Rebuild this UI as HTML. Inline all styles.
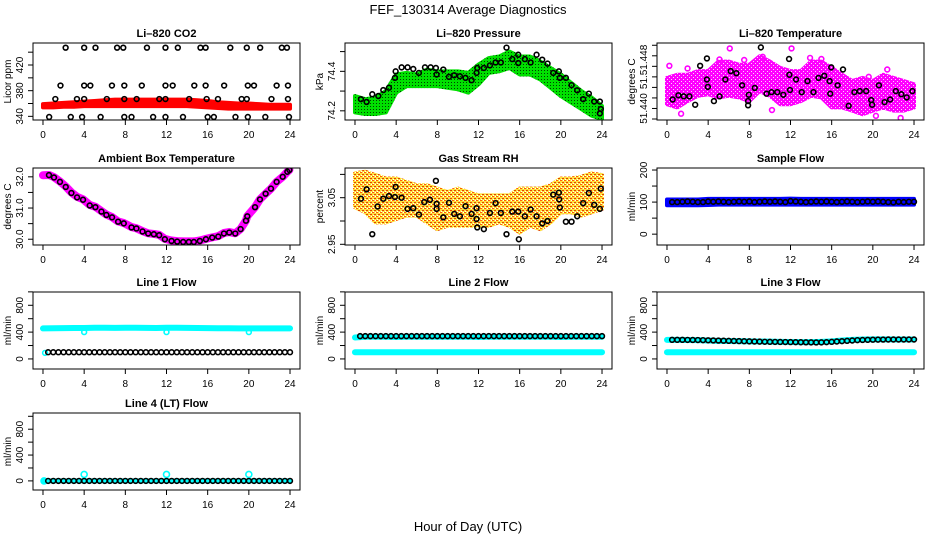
<!DOCTYPE html>
<html><head><meta charset="utf-8"><style>
html,body{margin:0;padding:0;background:#fff;}
svg{display:block;font-family:"Liberation Sans",sans-serif;}
</style></head><body>
<svg id="chart" width="936" height="540" viewBox="0 0 936 540" xmlns="http://www.w3.org/2000/svg">
<defs>
<pattern id="pGreen" width="3" height="3" patternUnits="userSpaceOnUse"><rect width="3" height="3" fill="#00e000"/><rect x="1" y="1" width="1" height="1" fill="#004000"/></pattern>
<pattern id="pOrange" width="4" height="4" patternUnits="userSpaceOnUse"><rect width="4" height="4" fill="#ffe040"/><rect x="0" y="0" width="2" height="1" fill="#ff6000"/><rect x="2" y="2" width="2" height="1" fill="#e04000"/><rect x="3" y="0" width="1" height="1" fill="#ffffff"/><rect x="1" y="3" width="1" height="1" fill="#ffffff"/></pattern>
<pattern id="pMag" width="4" height="4" patternUnits="userSpaceOnUse"><rect width="4" height="4" fill="#ff00ff"/><rect x="1" y="1" width="1" height="1" fill="#ffd0ff"/><rect x="3" y="3" width="1" height="1" fill="#ffd0ff"/></pattern>
</defs>
<text x="468" y="14" font-size="13" text-anchor="middle">FEF_130314  Average Diagnostics</text>
<text x="468" y="531" font-size="13" text-anchor="middle">Hour of Day (UTC)</text>
</svg>
<script>
// ---- shared x data ----
const xTicks = [0,4,8,12,16,20,24];
const hourly = [0,1,2,3,4,5,6,7,8,9,10,11,12,13,14,15,16,17,18,19,20,21,22,23,24];
const halfHours = [0.5,1,1.5,2,2.5,3,3.5,4,4.5,5,5.5,6,6.5,7,7.5,8,8.5,9,9.5,10,10.5,11,11.5,12,12.5,13,13.5,14,14.5,15,15.5,16,16.5,17,17.5,18,18.5,19,19.5,20,20.5,21,21.5,22,22.5,23,23.5,24];

// ---- CO2 ----
const co2Upper = [359,360,361,362,363,364,365,366,366,366,366,366,366,366,366,365,364,362,361,360,360,359,358,358,358];
const co2Lower = [354,354,355,355,356,356,356,356,356,356,356,356,356,356,356,355,354,353,352,352,352,352,352,352,352];
const co2Hours = [2.2,4.0,5.1,7.2,7.8,10.1,11.9,13.1,15.3,15.8,18.2,19.8,21.1,23.2,23.7, 1.7,4.0,4.6,6.7,7.9,9.6,11.9,12.6,14.7,15.8,17.6,19.9,20.5,22.7,23.8, 1.2,3.3,4.0,6.2,7.9,9.1,11.3,11.9,14.2,15.9,17.0,19.3,19.8,22.2,23.8, 0.6,2.7,3.8,5.6,7.9,8.6,10.7,11.9,13.6,16.0,16.6,18.7,19.9,21.6,23.9];
const co2Vals = [447,447,447,447,447,447,447,447,447,447,447,447,447,447,447, 388,388,388,388,388,388,388,388,388,388,388,388,388,388,388, 367,367,367,367,367,367,367,367,367,367,367,367,367,367,367, 339,339,339,339,339,339,339,339,339,339,339,339,339,339,339];

// ---- Pressure ----
const presUpper = [74.275,74.259,74.267,74.300,74.384,74.392,74.384,74.409,74.400,74.400,74.400,74.392,74.434,74.467,74.475,74.500,74.475,74.475,74.450,74.417,74.384,74.342,74.300,74.267,74.225];
const presLower = [74.192,74.184,74.184,74.192,74.292,74.325,74.325,74.325,74.325,74.317,74.309,74.292,74.334,74.392,74.400,74.417,74.384,74.384,74.359,74.317,74.275,74.242,74.209,74.175,74.159];
const presHours = [0.58,1.13,1.68,2.27,2.75,3.30,3.95,3.88,4.53,5.11,5.66,6.21,6.80,7.35,7.86,7.93,8.58,9.13,9.64,10.19,10.74,11.33,11.81,11.88,12.52,13.11,13.66,14.17,14.72,15.28,15.86,15.86,16.50,17.06,17.64,18.19,18.71,19.26,19.81,19.90,20.49,21.04,21.59,22.17,22.72,23.24,23.79,23.88,23.79];
const presVals = [74.259,74.245,74.284,74.275,74.305,74.317,74.400,74.367,74.420,74.420,74.412,74.392,74.420,74.420,74.417,74.384,74.409,74.372,74.380,74.375,74.367,74.355,74.392,74.417,74.417,74.430,74.445,74.445,74.520,74.462,74.484,74.442,74.462,74.445,74.484,74.459,74.439,74.392,74.400,74.367,74.367,74.330,74.304,74.259,74.287,74.247,74.247,74.209,74.187];

// ---- Li-820 Temperature ----
const tempUpper = [51.4458,51.4464,51.4464,51.4471,51.4471,51.4489,51.4489,51.4483,51.4483,51.4499,51.4489,51.4477,51.4471,51.4471,51.4489,51.4489,51.4477,51.4464,51.4452,51.4458,51.4452,51.4464,51.4458,51.4452,51.4446];
const tempLower = [51.4408,51.4402,51.4414,51.4424,51.4427,51.4421,51.4424,51.4421,51.4414,51.4433,51.4424,51.4408,51.4408,51.4414,51.4424,51.4421,51.4402,51.4402,51.4396,51.4389,51.4396,51.4402,51.4396,51.4396,51.4402];
const tempOutHours = [0.23,6.1,12.1,1.37,10.2,20.3,22.7,21.4,5.1,13.9,9.3,19.6,2.0,7.5,15.0];
const tempOutVals = [51.4481,51.4514,51.4514,51.4390,51.4397,51.4386,51.4382,51.4474,51.4493,51.4496,51.4498,51.4460,51.4476,51.4492,51.4494];
const tempHours = [0.55,1.11,1.63,2.18,2.74,3.22,3.88,3.88,3.97,4.56,5.11,5.67,6.19,6.74,7.30,7.88,7.88,7.95,8.53,9.12,9.67,10.16,10.72,11.30,11.86,11.89,11.95,12.54,13.09,13.65,14.23,14.72,15.28,15.80,15.86,15.96,16.58,17.10,17.65,18.21,18.73,19.35,19.84,19.93,20.59,21.14,21.68,22.23,22.77,23.29,23.84];
const tempVals = [51.4417,51.4425,51.4423,51.4423,51.4407,51.4481,51.4495,51.4455,51.4441,51.4414,51.4423,51.4455,51.4471,51.4467,51.4444,51.4406,51.4414,51.4426,51.4439,51.4516,51.4428,51.4431,51.4431,51.4426,51.4494,51.4464,51.4435,51.4455,51.4431,51.4452,51.4431,51.4458,51.4462,51.4452,51.4428,51.4478,51.4444,51.4474,51.4405,51.4431,51.4433,51.4433,51.4416,51.4407,51.4444,51.4412,51.4417,51.4433,51.4427,51.4421,51.4433];

// ---- Ambient Box Temperature ----
const ambHours = [0.58,1.07,1.65,2.21,2.76,3.31,3.89,4.54,5.09,5.68,6.16,6.71,7.30,7.85,8.60,9.08,9.67,10.22,10.77,11.29,11.84,12.49,13.04,13.62,14.17,14.66,15.24,15.83,16.44,17.03,17.58,18.10,18.68,19.20,19.72,19.85,20.60,21.08,21.63,22.15,22.70,23.29,23.74,23.94];
const ambVals = [32.055,31.979,31.839,31.676,31.482,31.341,31.265,31.081,31.027,30.886,30.778,30.702,30.562,30.508,30.378,30.345,30.248,30.183,30.161,30.129,29.999,29.945,29.923,29.912,29.912,29.912,29.945,29.999,30.053,30.085,30.183,30.215,30.183,30.324,30.594,30.735,31.027,31.276,31.460,31.622,31.839,32.001,32.163,32.218];
const ambLineHours = [0,0.58,1.07,1.65,2.21,2.76,3.31,3.89,4.54,5.09,5.68,6.16,6.71,7.30,7.85,8.60,9.08,9.67,10.22,10.77,11.29,11.84,12.49,13.04,13.62,14.17,14.66,15.24,15.83,16.44,17.03,17.58,18.10,18.68,19.20,19.72,19.85,20.60,21.08,21.63,22.15,22.70,23.29,23.74,23.94];
const ambLineVals = [32.05,32.06,31.99,31.85,31.69,31.50,31.36,31.28,31.10,31.04,30.90,30.79,30.71,30.57,30.52,30.39,30.35,30.26,30.19,30.17,30.14,30.01,29.96,29.94,29.93,29.93,29.93,29.96,30.01,30.06,30.10,30.20,30.23,30.19,30.33,30.60,30.74,31.03,31.28,31.46,31.62,31.84,32.00,32.16,32.22];

// ---- Gas Stream RH ----
const rhUpper = [3.1021,3.1057,3.0985,3.0912,3.0912,3.0840,3.0767,3.0767,3.0695,3.0622,3.0695,3.0622,3.0550,3.0550,3.0550,3.0550,3.0695,3.0695,3.0695,3.0767,3.0912,3.0912,3.0948,3.1021,3.0985];
const rhLower = [3.0296,3.0188,2.9970,2.9970,3.0043,3.0115,3.0115,2.9970,2.9825,2.9898,2.9898,2.9898,2.9898,2.9898,2.9970,2.9898,2.9753,2.9898,2.9825,2.9970,3.0188,3.0188,3.0115,3.0188,3.0260];
const rhHours = [0.58,1.13,1.68,2.20,2.75,3.30,3.88,3.95,4.53,5.11,5.66,6.21,6.73,7.28,7.86,7.93,7.93,8.58,9.13,9.64,10.19,10.74,11.33,11.81,11.81,11.88,12.52,13.11,13.66,14.17,14.72,15.28,15.86,15.92,16.50,17.06,17.64,18.19,18.71,19.26,19.81,19.84,19.90,20.49,21.04,21.59,22.17,22.72,23.24,23.79,23.88];
const rhVals = [3.0478,3.0680,2.9717,3.0311,3.0478,3.0535,3.0514,3.0731,3.0499,3.0260,3.0275,3.0137,3.0405,3.0456,3.0862,3.0369,3.0260,3.0079,3.0391,3.0152,3.0101,3.0318,3.0152,3.0275,3.0043,2.9862,2.9825,3.0173,3.0383,3.0173,2.9717,3.0202,3.0202,2.9608,3.0101,3.0246,3.0101,2.9948,2.9999,3.0565,3.0608,3.0463,3.0289,2.9985,2.9985,3.0101,3.0383,3.0601,3.0347,3.0260,3.0695];

// ---- Sample Flow ----
const sfUpper = [108,108,108,108,110,110,110,110,110,110,110,110,111,110,110,110,110,110,110,110,110,110,110,110,110];
const sfLower = [90,90,90,90,91,92,92,92,92,92,92,92,92,92,92,92,92,92,92,92,92,92,92,92,92];
const sfVals = [100,100,101,102,101,100,100,102,101,102,101,100,101,102,101,102,100,101,102,101,102,101,100,103,102,101,100,101,102,101,102,101,100,101,102,101,100,101,102,101,102,101,100,99,101,100,101,101];

// ---- Line flows (cyan series hourly, black half-hourly) ----
const l1Cyan = [455,458,460,462,462,465,465,463,465,465,463,462,465,465,463,462,460,458,458,456,456,455,455,455,455];
const l1Black = [100,100,100,100,100,100,100,100,100,100,100,100,100,100,100,100,100,100,100,100,100,100,100,100,100,100,100,100,100,100,100,100,100,100,100,100,100,100,100,100,100,100,100,100,100,100,100,100];
const l2CyanHi = [320,330,330,330,328,330,330,330,330,330,330,330,328,330,330,330,330,330,330,330,328,330,330,330,330];
const l2CyanLo = [100,100,100,100,100,100,100,100,100,100,100,100,100,100,100,100,100,100,100,100,100,100,100,100,100];
const l2Black = [340,340,340,340,340,340,340,340,340,340,340,340,340,340,340,340,340,340,340,340,340,340,340,340,340,340,340,340,340,340,340,340,340,340,340,340,340,340,340,340,340,340,340,340,340,340,340,340];
const l3CyanHi = [285,285,282,280,275,270,268,265,262,260,258,255,252,250,250,255,262,275,285,290,292,292,290,290,290];
const l3CyanLo = [100,100,100,100,100,100,100,100,100,100,100,100,100,100,100,100,100,100,100,100,100,100,100,100,100];
const l3Black = [285,285,285,284,283,282,280,278,276,274,272,270,268,266,264,262,260,258,256,255,254,253,252,251,250,249,248,247,246,247,250,255,260,265,270,275,280,283,285,287,288,289,290,290,290,290,290,290];
const l4Cyan = [0,0,0,0,0,0,0,0,0,0,0,0,0,0,0,0,0,0,0,0,0,0,0,0,0];
const l4CyanOutHours = [4,12,20,0.1];
const l4CyanOutVals = [100,100,100,0];
const l4Black = [0,0,0,0,0,0,0,0,0,0,0,0,0,0,0,0,0,0,0,0,0,0,0,0,0,0,0,0,0,0,0,0,0,0,0,0,0,0,0,0,0,0,0,0,0,0,0,0];
const flowYTicks = [0,200,400,600,800,1000];
const flowYLabels = [0,400,800];

const NS = 'http://www.w3.org/2000/svg';
const svg = document.getElementById('chart');
function el(tag, attrs, parent){ const e=document.createElementNS(NS,tag); for(const k in attrs) e.setAttribute(k,attrs[k]); (parent||svg).appendChild(e); return e; }

const colX = [33,345,657], rowY = [43,168,292,413], PW = 267, PH = 77;
const XMIN=-0.97, XMAX=24.97;

function makePanel(col,row,yMin,yMax,title,yTitle,yTicks,yLabels,name){
  const L=colX[col], T=rowY[row];
  const g=el('g',{});
  
  
  const xs=v=>L+(v-XMIN)/(XMAX-XMIN)*PW;
  const ys=v=>T+PH-(v-yMin)/(yMax-yMin)*PH;
  const clipId='clip-'+name;
  const cp=el('clipPath',{id:clipId},g); el('rect',{x:L,y:T,width:PW,height:PH},cp);
  const plot=el('g',{'clip-path':'url(#'+clipId+')'},g);
  
  
  const frame=el('rect',{x:L,y:T,width:PW,height:PH,fill:'none',stroke:'#000','stroke-width':1},g);
  
  
  const t=el('text',{x:L+PW/2,y:T-6,'font-size':11,'font-weight':'bold','text-anchor':'middle'},g);
  
  
  t.textContent=title;
  xTicks.forEach(v=>{
    el('line',{x1:xs(v),x2:xs(v),y1:T+PH,y2:T+PH+5,stroke:'#000'},g);
    const tl=el('text',{x:xs(v),y:T+PH+18,'font-size':10,'text-anchor':'middle'},g);
    
    
    tl.textContent=v;
  });
  yTicks.forEach(v=>{ el('line',{x1:L,x2:L-5,y1:ys(v),y2:ys(v),stroke:'#000'},g); });
  yLabels.forEach(lb=>{
    const yy=ys(lb[0]);
    const tl=el('text',{x:L-10,y:yy,'font-size':10,'text-anchor':'middle',transform:'rotate(-90 '+(L-10)+' '+yy+')'},g);
    
    
    tl.textContent=lb[1];
  });
  const yt=el('text',{x:L-22,y:T+PH/2,'font-size':10,'text-anchor':'middle',transform:'rotate(-90 '+(L-22)+' '+(T+PH/2)+')'},g);
  
  
  yt.textContent=yTitle;
  return {xs,ys,plot};
}
function band(p,hrs,up,lo,fill,name){
  let pts=[]; hrs.forEach((h,i)=>pts.push(p.xs(h)+','+p.ys(up[i])));
  for(let i=hrs.length-1;i>=0;i--) pts.push(p.xs(hrs[i])+','+p.ys(lo[i]));
  const b=el('polygon',{points:pts.join(' '),fill:fill,stroke:fill,'stroke-width':4,'stroke-linejoin':'round'},p.plot);
  
  
}
function line(p,hrs,vals,color,w,name){
  const pts=hrs.map((h,i)=>p.xs(h)+','+p.ys(vals[i])).join(' ');
  const l=el('polyline',{points:pts,fill:'none',stroke:color,'stroke-width':w,'stroke-linejoin':'round','stroke-linecap':'round'},p.plot);
  
  
}
function pts(p,hrs,vals,color,name,r){
  hrs.forEach((h,i)=>{
    const c=el('circle',{cx:p.xs(h),cy:p.ys(vals[i]),r:r||2.4,fill:'none',stroke:color,'stroke-width':1.6},p.plot);
    
    
  });
}

// CO2
let p=makePanel(0,0,334.3,454.3,'Li\u2013820 CO2','Licor ppm',[340,360,380,400,420,440],[[340,'340'],[380,'380'],[420,'420']],'co2');
band(p,hourly,co2Upper,co2Lower,'#ff0000','co2-band');
pts(p,co2Hours,co2Vals,'#000','co2-point');
// Pressure
p=makePanel(1,0,74.1535,74.5435,'Li\u2013820 Pressure','kPa',[74.2,74.3,74.4,74.5],[[74.2,'74.2'],[74.4,'74.4']],'pressure');
band(p,hourly,presUpper,presLower,'url(#pGreen)','pressure-band');
pts(p,presHours,presVals,'#000','pressure-point');
// Temperature
p=makePanel(2,0,51.43781,51.45243,'Li\u2013820 Temperature','degrees C',[51.438,51.440,51.442,51.444,51.446,51.448,51.450,51.452],[[51.440,'51.440'],[51.445,'51.'],[51.4492,'51.448']],'li820-temp');
band(p,hourly,tempUpper,tempLower,'url(#pMag)','li820-temp-band');
pts(p,tempOutHours,tempOutVals,'#ff00ff','li820-temp-outlier');
pts(p,tempHours,tempVals,'#000','li820-temp-point');
// Ambient
p=makePanel(0,1,29.815,32.283,'Ambient Box Temperature','degrees C',[30,30.5,31,31.5,32],[[30,'30.0'],[31,'31.0'],[32,'32.0']],'ambient');
line(p,ambLineHours,ambLineVals,'#ff00ff',8,'ambient-line');
pts(p,ambHours,ambVals,'#000','ambient-point');
// RH
p=makePanel(1,1,2.9485,3.1137,'Gas Stream RH','percent',[2.95,3.0,3.05,3.1],[[2.95,'2.95'],[3.05,'3.05']],'rh');
band(p,hourly,rhUpper,rhLower,'url(#pOrange)','rh-band');
pts(p,rhHours,rhVals,'#000','rh-point');
// Sample flow
p=makePanel(2,1,-33.8,206.3,'Sample Flow','ml/min',[0,50,100,150,200],[[0,'0'],[100,'100'],[200,'200']],'sample-flow');
band(p,hourly,sfUpper,sfLower,'#0000ff','sample-flow-band');
pts(p,halfHours,sfVals,'#000','sample-flow-point');
// Line 1
const fl=flowYLabels.map(v=>[v,String(v)]);
p=makePanel(0,2,-150,998,'Line 1 Flow','ml/min',flowYTicks,fl,'line1');
line(p,hourly,l1Cyan,'#00ffff',6,'line1-cyan');
pts(p,[4,12,20,0.2],[400,400,400,90],'#00ffff','line1-cyan-point');
pts(p,halfHours,l1Black,'#000','line1-point');
// Line 2
p=makePanel(1,2,-150,998,'Line 2 Flow','ml/min',flowYTicks,fl,'line2');
line(p,hourly,l2CyanHi,'#00ffff',6,'line2-cyan-high');
line(p,hourly,l2CyanLo,'#00ffff',6,'line2-cyan-low');
pts(p,halfHours,l2Black,'#000','line2-point');
// Line 3
p=makePanel(2,2,-150,998,'Line 3 Flow','ml/min',flowYTicks,fl,'line3');
line(p,hourly,l3CyanHi,'#00ffff',6,'line3-cyan-high');
line(p,hourly,l3CyanLo,'#00ffff',6,'line3-cyan-low');
pts(p,halfHours,l3Black,'#000','line3-point');
// Line 4
p=makePanel(0,3,-141,1051,'Line 4 (LT) Flow','ml/min',flowYTicks,fl,'line4');
line(p,hourly,l4Cyan,'#00ffff',5,'line4-cyan');
pts(p,l4CyanOutHours,l4CyanOutVals,'#00ffff','line4-cyan-point',3);
pts(p,halfHours,l4Black,'#000','line4-point');
</script>
</body></html>
